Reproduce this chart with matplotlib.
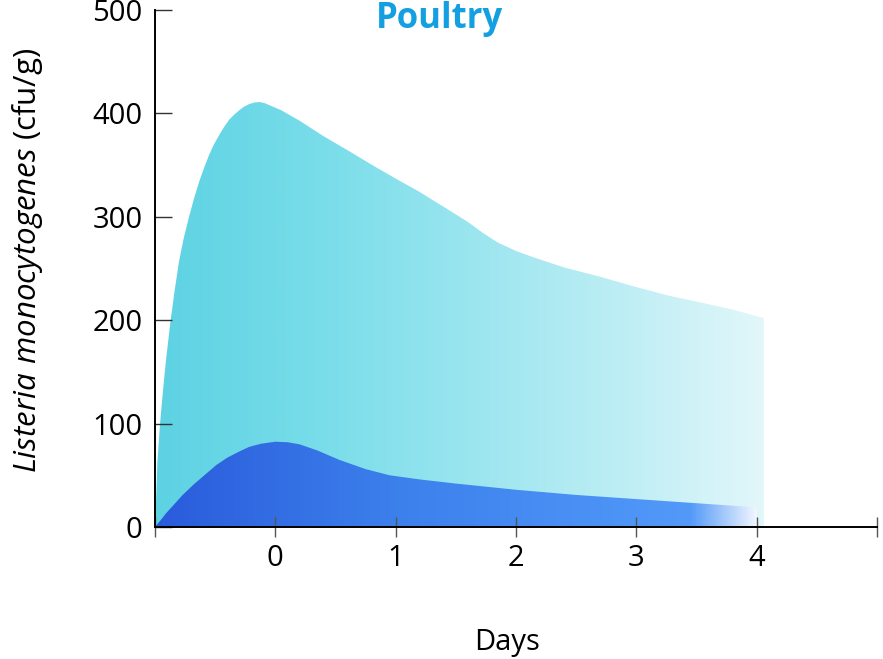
import numpy as np
import matplotlib
matplotlib.use('Agg')
import matplotlib.pyplot as plt
from matplotlib.colors import LinearSegmentedColormap

# values (days, cfu/g)
upper_days = [-1.0, -0.99, -0.98, -0.958, -0.935, -0.91, -0.87, -0.835, -0.80, -0.76,
              -0.717, -0.675, -0.633, -0.59, -0.55, -0.51, -0.467, -0.425, -0.383, -0.34,
              -0.3, -0.26, -0.217, -0.175, -0.133, -0.09, -0.05, 0.05, 0.2, 0.4,
              0.62, 0.82, 1.03, 1.2, 1.31, 1.45, 1.6, 1.73, 1.85, 2.0,
              2.14, 2.4, 2.7, 3.0, 3.26, 3.5, 3.81, 4.06]
upper_cfu = [0, 30, 63, 100, 130, 160, 200, 230, 257, 280,
             300, 318, 334, 348, 360, 370, 379, 387, 394, 399,
             403, 406.5, 409, 410.5, 411, 410, 408, 403, 393, 378,
             363, 349, 335, 324, 316, 306, 295, 284, 275, 267,
             261, 251, 242, 232, 224, 218, 210, 202]

lower_days = [-1.0, -0.95, -0.91, -0.84, -0.77, -0.68, -0.58, -0.49, -0.4, -0.3,
              -0.217, -0.12, 0.0, 0.1, 0.2, 0.35, 0.53, 0.75, 0.95, 1.2,
              1.5, 2.0, 2.5, 3.0, 3.5, 4.0]
lower_cfu = [0, 7, 13, 22, 31, 41, 51, 60, 67, 73,
             77.5, 80.5, 82.5, 82, 80, 74, 65, 56, 50, 46,
             42, 36, 31, 27, 23, 19]

x_ticks = [-1, 0, 1, 2, 3, 4, 5]
x_labels = ['', '0', '1', '2', '3', '4', '']
y_ticks = [0, 100, 200, 300, 400, 500]

plt.rcParams['font.family'] = 'Open Sans'
plt.rcParams['mathtext.fontset'] = 'custom'
plt.rcParams['mathtext.rm'] = 'Open Sans'
plt.rcParams['mathtext.it'] = 'Open Sans:italic'

fig = plt.figure(figsize=(8.83, 6.59), dpi=100)
ax = fig.add_axes([155 / 883, 132 / 659, 722 / 883, 517 / 659])
ax.set_xlim(-1, 5)
ax.set_ylim(0, 500)


def gradient_fill(xs, ys, stops, z):
    # horizontal colour ramp clipped to the area under the curve
    cmap = LinearSegmentedColormap.from_list('g', stops)
    poly = ax.fill_between(xs, ys, 0, color='none', lw=0)
    ramp = np.linspace(0, 1, 512).reshape(1, -1)
    im = ax.imshow(ramp, cmap=cmap, aspect='auto', interpolation='bilinear',
                   extent=[xs[0], xs[-1], 0, max(ys)], zorder=z)
    im.set_clip_path(poly.get_paths()[0], transform=ax.transData)


gradient_fill(upper_days, upper_cfu,
              [(0.0, '#5cd2e3'), (0.3, '#7cdeea'), (0.6, '#a6e8f1'),
               (0.8, '#c2eff5'), (1.0, '#e2f7fa')], 1)
gradient_fill(lower_days, lower_cfu,
              [(0.0, '#2a5bdb'), (0.4, '#3c80ec'), (0.8, '#4e95f7'),
               (0.89, '#5299f8'), (1.0, '#f0f5ff')], 2)

ax.set_xlim(-1, 5)
ax.set_ylim(0, 500)

for side in ['top', 'right']:
    ax.spines[side].set_visible(False)
for side in ['left', 'bottom']:
    ax.spines[side].set_linewidth(1.4)
    ax.spines[side].set_color('black')
    ax.spines[side].set_zorder(5)

ax.set_xticks(x_ticks)
ax.set_xticklabels(x_labels)
ax.set_yticks(y_ticks)
ax.tick_params(axis='x', direction='inout', length=15, width=1, color='#555555',
               labelsize=21, pad=5)
ax.tick_params(axis='y', direction='in', length=12.5, width=1, color='#333333',
               labelsize=21, pad=9)
ax.set_axisbelow(False)
for t in ax.xaxis.get_major_ticks() + ax.yaxis.get_major_ticks():
    t.tick1line.set_zorder(6)

fig.text(439 / 883, 1 - 28 / 659, 'Poultry', color='#14a0e0', fontsize=25,
         fontweight='bold', ha='center', va='baseline')
fig.text(507 / 883, 9 / 659, 'Days', fontsize=21, ha='center', va='baseline')
fig.text(28 / 883, 1 - 260 / 659, r'$\mathit{Listeria\ monocytogenes}$ (cfu/g)',
         fontsize=22.5, rotation=90, ha='center', va='center')

fig.savefig('out.png', dpi=100)
